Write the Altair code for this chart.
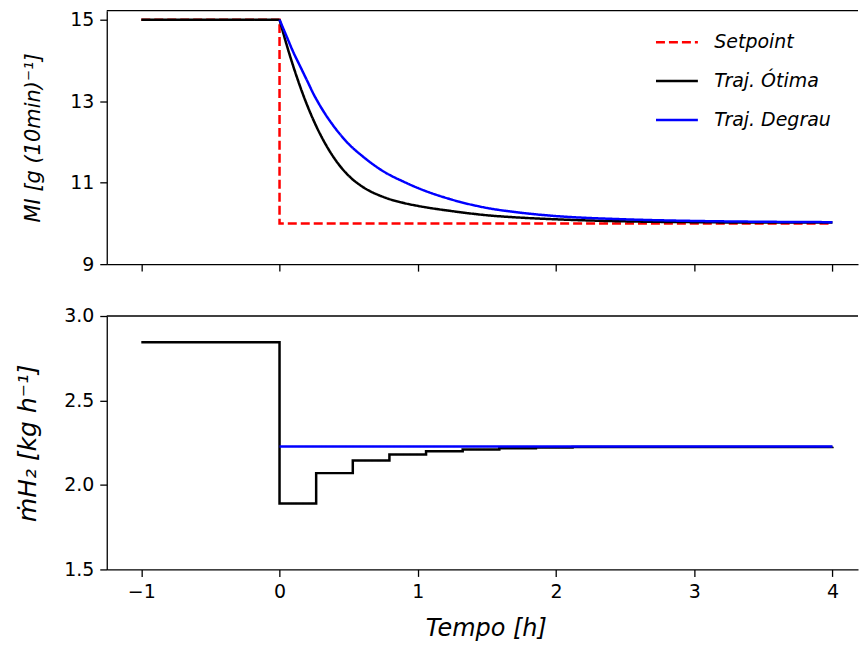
import altair as alt
import pandas as pd

# ---------------- data ----------------
series = ["Setpoint", "Traj. Ótima", "Traj. Degrau"]
colors = ["#ff0000", "#000000", "#0000ff"]

# top panel: MI
t_sp = [-1, 0, 0, 4]
mi_sp = [15, 15, 10, 10]

t_mi = [-1, 0, 0.05, 0.1, 0.15, 0.2, 0.25, 0.3, 0.4, 0.5, 0.6, 0.75, 0.9, 1.0,
        1.25, 1.5, 1.75, 2.0, 2.5, 3.0, 3.5, 4.0]
mi_opt = [15, 15.0, 14.4, 13.85, 13.35, 12.9, 12.5, 12.15, 11.58, 11.17, 10.9, 10.65,
          10.5, 10.43, 10.3, 10.2, 10.14, 10.1, 10.05, 10.03, 10.02, 10.02]
t_mi_step = [0, 0.05, 0.1, 0.15, 0.2, 0.25, 0.3, 0.4, 0.5, 0.6, 0.75, 0.9, 1.0,
             1.25, 1.5, 1.75, 2.0, 2.5, 3.0, 3.5, 4.0]
mi_step = [15.0, 14.6, 14.2, 13.85, 13.5, 13.15, 12.85, 12.35, 11.95, 11.65, 11.28,
           11.02, 10.87, 10.58, 10.38, 10.26, 10.18, 10.1, 10.06, 10.04, 10.03]

# bottom panel: H2 flow
t_h2_opt = [-1, 0, 0.265, 0.53, 0.795, 1.06, 1.325, 1.59, 1.855, 2.12, 4.0]
h2_opt = [2.845, 1.89, 2.07, 2.145, 2.18, 2.20, 2.21, 2.217, 2.221, 2.224, 2.226]
t_h2_step = [0, 4]
h2_step = [2.228, 2.228]

x_ticks = [-1, 0, 1, 2, 3, 4]
mi_ticks = [9, 11, 13, 15]
h2_ticks = [1.5, 2.0, 2.5, 3.0]


def frame(ts, vs, name):
    return pd.DataFrame({"t": ts, "v": vs, "s": name, "i": list(range(len(ts)))})


df_sp = frame(t_sp, mi_sp, series[0])
df_opt_flat = frame(t_mi[:2], mi_opt[:2], series[1])
df_opt = frame(t_mi[1:], mi_opt[1:], series[1])
df_step = frame(t_mi_step, mi_step, series[2])
df_h2_opt = frame(t_h2_opt, h2_opt, series[1])
df_h2_step = frame(t_h2_step, h2_step, series[2])

W, H = 753, 254
FONT = "DejaVu Sans"

xscale = alt.Scale(domain=[-1.25, 4.185], nice=False, zero=False)
color_scale = alt.Scale(domain=series, range=colors)
dash_scale = alt.Scale(domain=series, range=[[9, 4], [1, 0], [1, 0]])

legend = alt.Legend(
    title=None, orient="none", legendX=549, legendY=9,
    symbolType="stroke", symbolSize=1764, symbolStrokeWidth=2.5,
    labelFont=FONT, labelFontSize=19, labelFontStyle="italic", labelColor="black",
    labelOffset=15, rowPadding=6, padding=0,
)


def line_layer(df, y_enc, x_axis, show_legend, interp="linear"):
    return alt.Chart(df).mark_line(strokeWidth=2.5, interpolate=interp).encode(
        x=alt.X("t:Q", scale=xscale, axis=x_axis),
        y=y_enc,
        order=alt.Order("i:Q"),
        color=alt.Color("s:N", scale=color_scale, legend=legend if show_legend else None),
        strokeDash=alt.StrokeDash("s:N", scale=dash_scale, legend=legend if show_legend else None),
    )


def top_spine():
    # upper frame line of the panel (matplotlib top spine)
    return alt.Chart(pd.DataFrame({"k": [0]})).mark_rule(color="black", strokeWidth=1.3).encode(
        x=alt.value(0), x2=alt.value(W), y=alt.value(0)
    )


# ---------------- top chart ----------------
y_top = alt.Y("v:Q", scale=alt.Scale(domain=[9, 15.22], nice=False, zero=False),
              axis=alt.Axis(values=mi_ticks, title="MI [g (10min)⁻¹]", titleFontSize=21,
                            titleX=-73, titleBaseline="middle"))
x_top_axis = alt.Axis(values=x_ticks, labels=False, title=None)

top = alt.layer(
    line_layer(df_sp, y_top, x_top_axis, True),
    line_layer(df_opt_flat, y_top, x_top_axis, True),
    line_layer(df_opt, y_top, x_top_axis, True, "monotone"),
    line_layer(df_step, y_top, x_top_axis, True, "monotone"),
    top_spine(),
).properties(width=W, height=H)

# ---------------- bottom chart ----------------
y_bot = alt.Y("v:Q", scale=alt.Scale(domain=[1.5, 3.0], nice=False, zero=False),
              axis=alt.Axis(values=h2_ticks, format=".1f", title="ṁH₂ [kg h⁻¹]",
                            titleFontSize=25, titleX=-79, titleBaseline="middle"))
x_bot_axis = alt.Axis(values=x_ticks, title="Tempo [h]", titleFontSize=24,
                      titleX=380, titleY=59, titleBaseline="middle")

bottom = alt.layer(
    line_layer(df_h2_opt, y_bot, x_bot_axis, False, "step-after"),
    line_layer(df_h2_step, y_bot, x_bot_axis, False),
    top_spine(),
).properties(width=W, height=H)

chart = alt.vconcat(top, bottom, spacing=33).resolve_scale(
    color="independent", strokeDash="independent"
).resolve_legend(
    color="independent", strokeDash="independent"
).properties(
    padding={"left": 15, "top": 9, "right": 0, "bottom": 2},
    background="white",
).configure_view(stroke=None).configure_axis(
    labelFont=FONT, labelFontSize=19, labelColor="black",
    titleFont=FONT, titleFontStyle="italic", titleFontWeight="normal", titleColor="black",
    tickColor="black", tickSize=7, tickWidth=1.3, domainColor="black", domainWidth=1.3,
    labelPadding=6, grid=False,
)

chart.save("out.html", embed_options={"renderer": "svg", "actions": False})
